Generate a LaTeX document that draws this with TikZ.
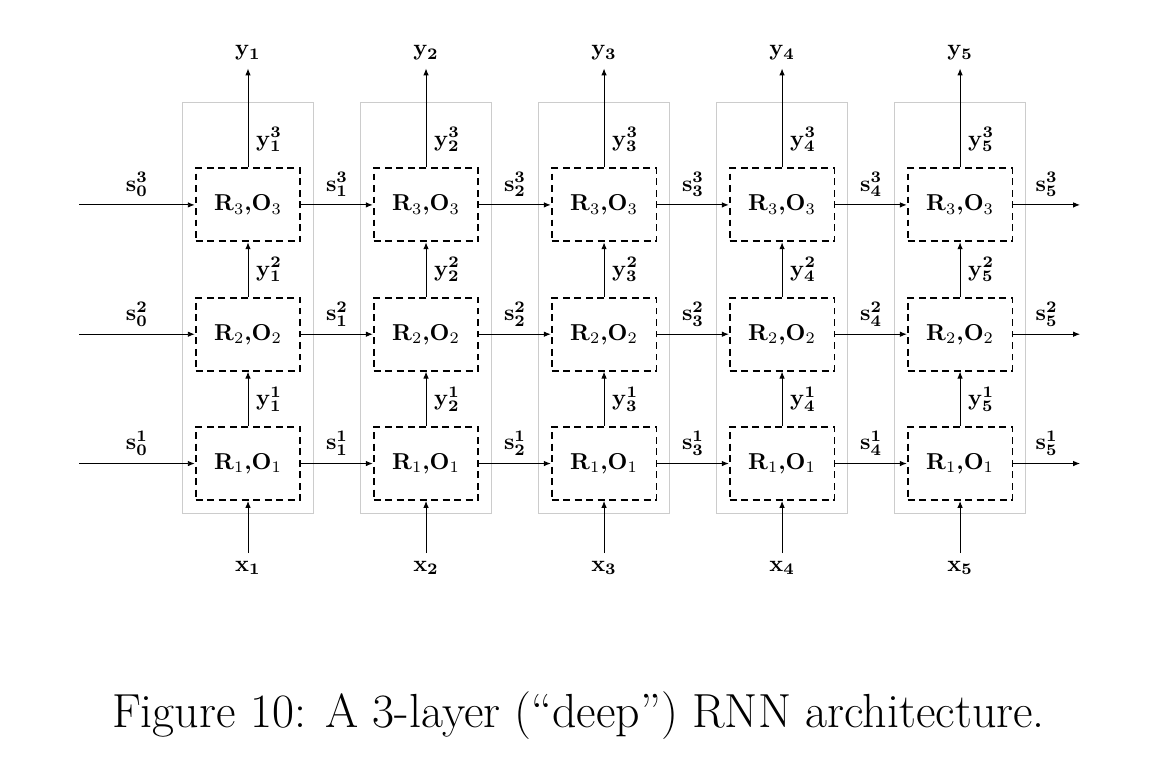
\documentclass[tikz,border=0pt]{standalone}
\usepackage{amsmath}
\usetikzlibrary{arrows.meta,positioning}
\tikzstyle{cell}=[draw,thick,dash pattern=on 3pt off 2pt,minimum width=1.6cm,minimum height=1.115cm,font=\bfseries]
\tikzstyle{frame}=[draw=gray!40,line width=0.4pt]
\tikzstyle{link}=[line width=0.4pt,-{Latex[length=3pt,width=2.4pt]}]
\begin{document}
\begin{tikzpicture}
      \useasboundingbox (0,0) rectangle (17.58,11.64);
      % the gray frames, one per time step
      \foreach \c in {1,2,...,5}
        \draw[frame] ({3.788+(\c-1)*2.719-1},3.80) rectangle ({3.788+(\c-1)*2.719+1},10.07);
      %% the cells
      \foreach \c in {1,2,...,5}
      {
        \foreach \r in {1,2,3}
          \node[cell] (b\r\c) at ({3.788+(\c-1)*2.719},{4.56+(\r-1)*1.975}) {R$_\r$,O$_\r$};
        \node (x\c) at ({3.788+(\c-1)*2.719},2.963) {$\mathbf{x_{\c}}$};
        \node (y\c) at ({3.788+(\c-1)*2.719},10.83) {$\mathbf{y_{\c}}$};
        \draw[link] (x\c) -- (b1\c);
        \draw[link] (b1\c) -- node[right]{$\mathbf{y^{1}_{\c}}$} (b2\c);
        \draw[link] (b2\c) -- node[right]{$\mathbf{y^{2}_{\c}}$} (b3\c);
        \draw[link] (b3\c) -- node[right,pos=0.28]{$\mathbf{y^{3}_{\c}}$} (y\c);
      }
      % the states, left to right
      \foreach \r in {1,2,3}
      {
        \coordinate (in\r) at (1.207,{4.56+(\r-1)*1.975});
        \coordinate (out\r) at (16.496,{4.56+(\r-1)*1.975});
        \draw[link] (in\r) -- node[above]{$\mathbf{s^{\r}_{0}}$} (b\r1);
        \draw[link] (b\r5) -- node[above]{$\mathbf{s^{\r}_{5}}$} (out\r);
        \foreach \c [evaluate=\c as \n using int(\c+1)] in {1,2,3,4}
          \draw[link] (b\r\c) -- node[above]{$\mathbf{s^{\r}_{\c}}$} (b\r\n);
      }
      \node[anchor=base,font=\fontsize{20.8}{25}\selectfont] (cap) at (8.836,0.535) {Figure 10: A 3-layer (``deep'') RNN architecture.};
\end{tikzpicture}
\end{document}
